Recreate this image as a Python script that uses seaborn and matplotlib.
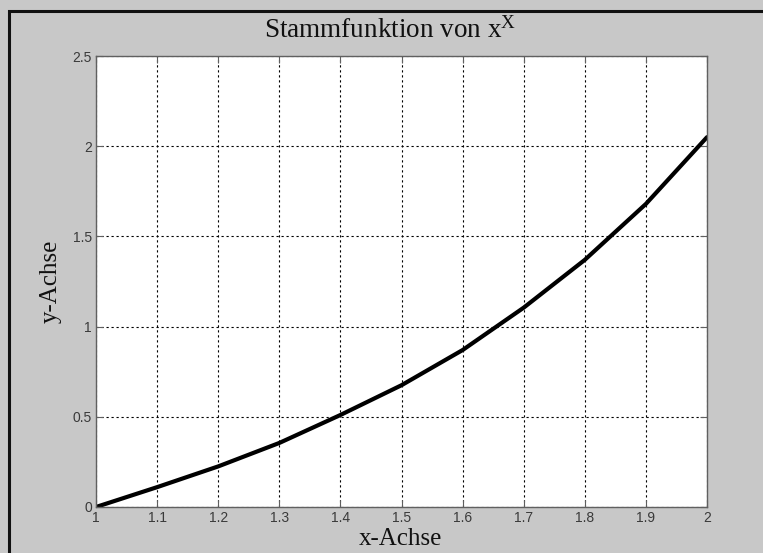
import matplotlib
matplotlib.use("Agg")
import matplotlib.pyplot as plt
import matplotlib.patches as mpatches
import seaborn as sns
import pandas as pd

# Antiderivative of x^x, starting at x = 1
x_values = [1.0, 1.1, 1.2, 1.3, 1.4, 1.5, 1.6, 1.7, 1.8, 1.9, 2.0]
y_values = [0.0, 0.11, 0.225, 0.355, 0.51, 0.675, 0.87, 1.105, 1.37, 1.68, 2.05]
x_ticks = [1, 1.1, 1.2, 1.3, 1.4, 1.5, 1.6, 1.7, 1.8, 1.9, 2]
x_tick_labels = ["1", "1.1", "1.2", "1.3", "1.4", "1.5", "1.6", "1.7", "1.8", "1.9", "2"]
y_ticks = [0, 0.5, 1, 1.5, 2, 2.5]
y_tick_labels = ["0", "0.5", "1", "1.5", "2", "2.5"]

sns.set_theme(style="white")
plt.rcParams["font.family"] = ["Liberation Sans", "DejaVu Sans"]
plt.rcParams["mathtext.fontset"] = "custom"
plt.rcParams["mathtext.rm"] = "Liberation Serif"
plt.rcParams["mathtext.it"] = "Liberation Serif"

df = pd.DataFrame({"x": x_values, "y": y_values})

fig = plt.figure(figsize=(7.63, 5.53), dpi=100)
fig.patch.set_facecolor("#c8c8c8")

# dark frame around the window area
frame = mpatches.Rectangle((8.5 / 763, -0.1), 1.2, (553 - 10.5) / 553 + 0.1,
                           transform=fig.transFigure, fill=False,
                           edgecolor="#111111", linewidth=2.2, zorder=0)
fig.patches.append(frame)

ax = fig.add_axes([96 / 763, 46 / 553, 611 / 763, 451 / 553])
ax.set_facecolor("white")

sns.lineplot(data=df, x="x", y="y", ax=ax, color="black", linewidth=3.0,
             estimator=None, sort=False)

ax.set_xlim(1, 2)
ax.set_ylim(0, 2.5)
ax.set_xticks(x_ticks)
ax.set_xticklabels(x_tick_labels)
ax.set_yticks(y_ticks)
ax.set_yticklabels(y_tick_labels)

ax.grid(True, color="black", linestyle=(0, (2, 2.5)), linewidth=0.8)
ax.set_axisbelow(True)

for s in ax.spines.values():
    s.set_color("#606060")
    s.set_linewidth(1.0)
    s.set_visible(True)

ax.tick_params(axis="both", direction="in", length=5, width=0.8, color="#606060",
               labelsize=10, labelcolor="#3a3a3a", top=True, right=True,
               bottom=True, left=True, pad=3)

serif = ["Liberation Serif", "DejaVu Serif"]
fig.text(390 / 763, 1 - 30 / 553, r"Stammfunktion von x$^{\mathrm{X}}$",
         ha="center", va="center", fontsize=19.5, family=serif, color="#111111")
ax.set_xlabel("")
ax.set_ylabel("y-Achse", fontsize=18, family=serif, color="#111111", labelpad=8)
fig.text(400 / 763, 8 / 553, "x-Achse", ha="center", va="baseline",
         fontsize=18, family=serif, color="#111111")

fig.savefig("out.png", dpi=100, facecolor=fig.get_facecolor())
